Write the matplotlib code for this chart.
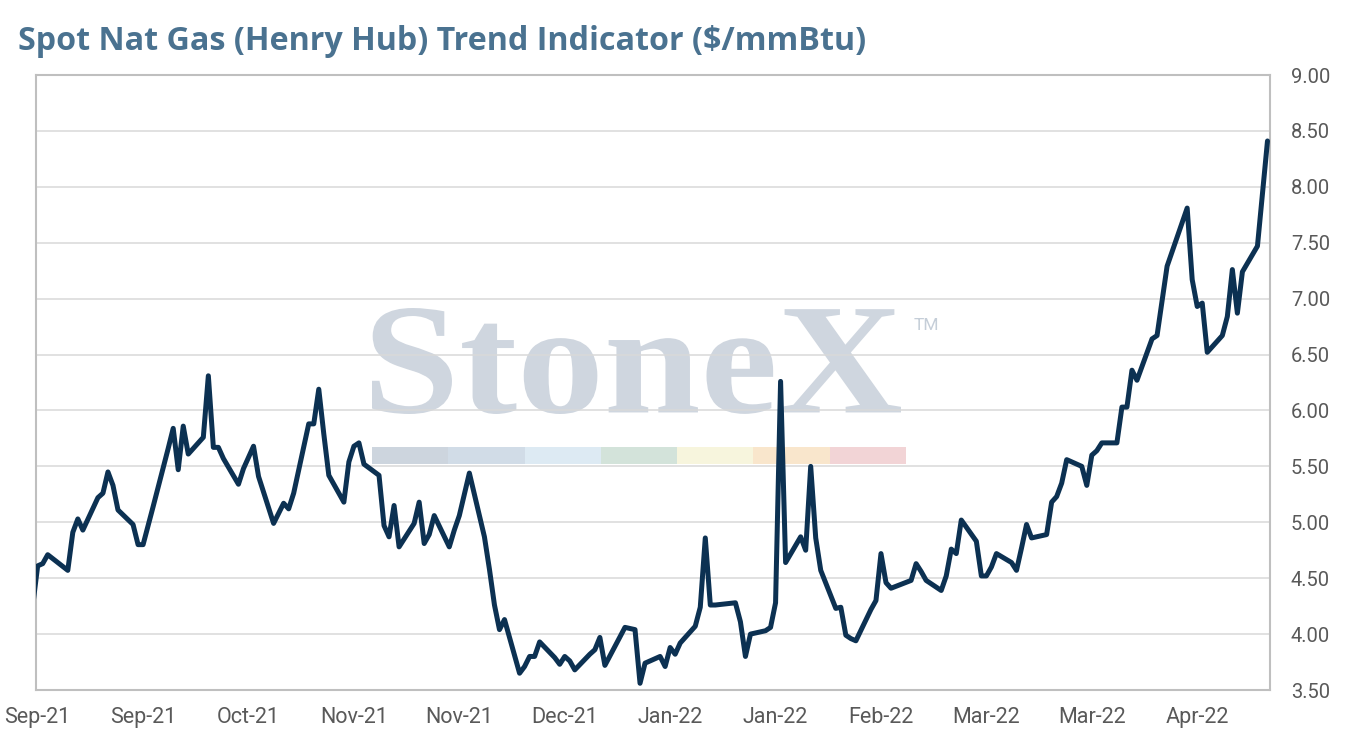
import numpy as np
import pandas as pd
import matplotlib
matplotlib.use("Agg")
from matplotlib import pyplot as plt
from matplotlib.textpath import TextPath
from matplotlib.font_manager import FontProperties
from matplotlib.patches import PathPatch, Rectangle
from matplotlib.transforms import Affine2D
import matplotlib.dates as mdates

# ------------------------------------------------------------------------------
#  Data: Henry Hub spot, business days
# ------------------------------------------------------------------------------
holidays = ["2021-09-06", "2021-11-25", "2021-12-24", "2022-01-17",
            "2022-02-21", "2022-04-15"]
dates = pd.bdate_range("2021-08-31", "2022-05-04", freq="C", holidays=holidays)

aug_21 = [4.25]
sep_21 = [4.61, 4.63, 4.71, 4.57, 4.91, 5.03, 4.93, 5.22, 5.26, 5.45, 5.33,
          5.11, 4.98, 4.80, 4.80, 4.97, 5.14, 5.66, 5.84, 5.47, 5.86]
oct_21 = [5.61, 5.76, 6.31, 5.67, 5.67, 5.57, 5.34, 5.48, 5.58, 5.68, 5.41,
          4.99, 5.08, 5.17, 5.12, 5.26, 5.88, 5.88, 6.19, 5.79, 5.42]
nov_21 = [5.18, 5.54, 5.68, 5.71, 5.52, 5.42, 4.97, 4.87, 5.15, 4.78, 4.99,
          5.18, 4.81, 4.89, 5.06, 4.78, 4.93, 5.06, 5.44, 4.87, 4.58]
dec_21 = [4.26, 4.04, 4.13, 3.65, 3.71, 3.80, 3.80, 3.93, 3.79, 3.73, 3.80,
          3.76, 3.68, 3.82, 3.86, 3.97, 3.72, 4.06, 4.05, 4.04, 3.56, 3.74]
jan_22 = [3.80, 3.71, 3.88, 3.82, 3.92, 4.07, 4.24, 4.86, 4.26, 4.26, 4.28,
          4.11, 3.80, 4.00, 4.03, 4.06, 4.28, 6.26, 4.64, 4.87]
feb_22 = [4.75, 5.50, 4.86, 4.57, 4.23, 4.24, 3.99, 3.96, 3.94, 4.22, 4.30,
          4.72, 4.46, 4.41, 4.48, 4.63, 4.56, 4.48, 4.39]
mar_22 = [4.52, 4.76, 4.72, 5.02, 4.83, 4.52, 4.52, 4.60, 4.72, 4.64, 4.57,
          4.77, 4.98, 4.86, 4.89, 5.18, 5.23, 5.35, 5.56, 5.50, 5.33, 5.60,
          5.64]
apr_22 = [5.71, 5.71, 6.03, 6.03, 6.36, 6.27, 6.64, 6.67, 6.98, 7.29, 7.81,
          7.17, 6.93, 6.96, 6.52, 6.67, 6.84, 7.26, 6.87, 7.24]
may_22 = [7.47, 7.94, 8.41]

prices = (aug_21 + sep_21 + oct_21 + nov_21 + dec_21 + jan_22 + feb_22
          + mar_22 + apr_22 + may_22)
assert len(prices) == len(dates), (len(prices), len(dates))

tick_dates = pd.date_range("2021-09-01", periods=12, freq="21D")
y_ticks = np.arange(3.5, 9.01, 0.5)

logo_colors = ["#cdd5de", "#d1dce7", "#ddeaf3", "#d3e3da",
               "#f7f5dd", "#f9e6cc", "#f2d4d6"]

# ------------------------------------------------------------------------------
#  Plot
# ------------------------------------------------------------------------------
W, H = 1350, 750
fig = plt.figure(figsize=(W / 100, H / 100), dpi=100)
ax = fig.add_axes([36 / W, 60 / H, 1234 / W, 615 / H])

# watermark
tp = TextPath((0, 0), "StoneX", size=1,
              prop=FontProperties(family="Liberation Serif", weight="bold"))
bb = tp.get_extents()
x0, x1 = 372 / W, 901 / W
y0, y1 = 1 - 414 / H, 1 - 308 / H
tr = (Affine2D().translate(-bb.x0, -bb.y0)
      .scale((x1 - x0) / bb.width, (y1 - y0) / bb.height)
      .translate(x0, y0))
ax.add_patch(PathPatch(tr.transform_path(tp), facecolor="#cfd6df",
                       edgecolor="none", transform=fig.transFigure,
                       zorder=0.2))
seg_w = (906 - 372) / 7
for k, c in enumerate(logo_colors):
    ax.add_patch(Rectangle(((372 + k * seg_w) / W, 1 - 464 / H), seg_w / W,
                           17 / H, facecolor=c, edgecolor="none",
                           transform=fig.transFigure, zorder=0.2))
fig.text(914 / W, 1 - 330 / H, "TM", fontsize=12.5, color="#c5ced8",
         family="Roboto")

ax.plot(dates, prices, color="#0c3152", lw=3.6, solid_joinstyle="round",
        solid_capstyle="round", zorder=3)

ax.set_xlim(pd.Timestamp("2021-09-01") - pd.Timedelta(hours=8),
            pd.Timestamp("2021-09-01") + pd.Timedelta(days=245.5))
ax.set_ylim(3.5, 9.0)

ax.set_axisbelow(True)
ax.grid(axis="y", color="#d9d9d9", lw=1.1)
for s in ax.spines.values():
    s.set_color("#bfbfbf")
    s.set_linewidth(1.5)

ax.yaxis.tick_right()
ax.set_yticks(y_ticks)
ax.yaxis.set_major_formatter(matplotlib.ticker.StrMethodFormatter("{x:.2f}"))
ax.set_xticks(tick_dates)
ax.xaxis.set_major_formatter(mdates.DateFormatter("%b-%y"))
ax.tick_params(axis="both", length=0, colors="#595959")
ax.tick_params(axis="y", pad=15, labelsize=14.5)
ax.tick_params(axis="x", pad=12, labelsize=15.5)
for lab in ax.get_xticklabels() + ax.get_yticklabels():
    lab.set_family("Roboto")

fig.text(18 / W, 1 - 50 / H, "Spot Nat Gas (Henry Hub) Trend Indicator ($/mmBtu)",
         fontsize=23.2, fontweight="bold", color="#4a7290", family="Open Sans",
         va="baseline")

fig.savefig("out.png", dpi=100)
